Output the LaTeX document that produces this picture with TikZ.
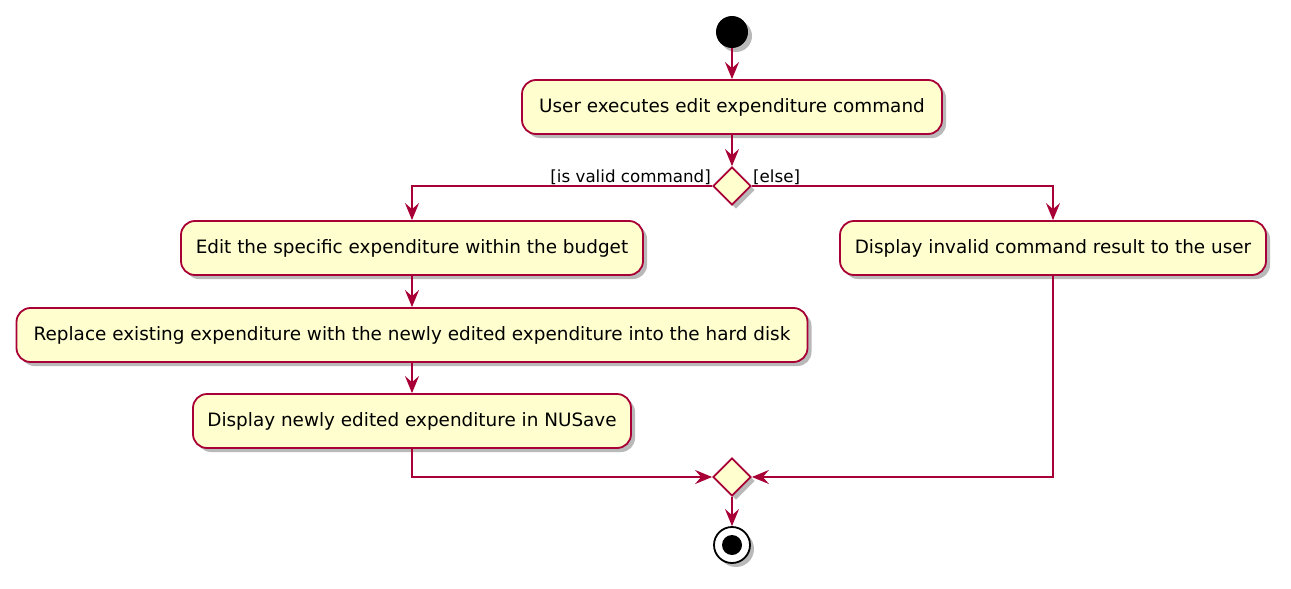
\documentclass[tikz,border=0pt]{standalone}
\usepackage{fontspec}
\setmainfont{DejaVu Sans}
\usetikzlibrary{arrows.meta,positioning,shadows,shapes.geometric}

\definecolor{umlred}{HTML}{A80036}
\definecolor{umlfill}{HTML}{FEFECE}

\tikzset{
    umlshadow/.style={drop shadow={shadow xshift=4pt, shadow yshift=-4pt, fill=black!55, opacity=0.5}},
    activity/.style={rectangle, rounded corners=14pt, draw=umlred, fill=umlfill, line width=1.8pt,
        minimum height=54pt, font=\fontsize{18.4}{21}\selectfont, umlshadow},
    branch/.style={diamond, draw=umlred, fill=umlfill, line width=1.8pt, inner sep=0pt,
        minimum width=38pt, minimum height=38pt, umlshadow},
    guard/.style={font=\fontsize{16.7}{19}\selectfont, inner sep=1pt},
    flow/.style={draw=umlred, line width=1.8pt, -{Stealth[length=17pt, width=14pt, inset=6pt]}},
}

\begin{document}
\begin{tikzpicture}[x=1pt, y=1pt]
    \useasboundingbox (0, 0) rectangle (1291, -589);

    % start / end
    \node[circle, fill=black, minimum size=32pt, inner sep=0pt, umlshadow] (start) at (732, -32) {};
    \node[circle, draw=black, fill=white, line width=1.8pt, minimum size=36pt, inner sep=0pt, umlshadow] (stop) at (732, -545) {};
    \node[circle, fill=black, minimum size=20pt, inner sep=0pt] (stop_dot) at (stop) {};

    % activities
    \node[activity, minimum width=420pt] (execute) at (732, -107) {User executes edit expenditure command};
    \node[activity, minimum width=462pt] (edit) at (412, -248) {Edit the specific expenditure within the budget};
    \node[activity, minimum width=426pt] (invalid) at (1053, -248) {Display invalid command result to the user};
    \node[activity, minimum width=791pt] (replace) at (412, -335) {Replace existing expenditure with the newly edited expenditure into the hard disk};
    \node[activity, minimum width=438pt] (show) at (412, -421) {Display newly edited expenditure in NUSave};

    % decision and merge
    \node[branch] (valid) at (732, -186) {};
    \node[branch] (merge) at (732, -477) {};

    \node[guard, anchor=base east] (valid_label) at (712, -182) {[is valid command]};
    \node[guard, anchor=base west] (else_label) at (752, -182) {[else]};

    % flows
    \draw[flow] (start) -- (execute);
    \draw[flow] (execute) -- (valid.north);
    \draw[flow] (valid.west) -| (edit.north);
    \draw[flow] (valid.east) -| (invalid.north);
    \draw[flow] (edit) -- (replace);
    \draw[flow] (replace) -- (show);
    \draw[flow] (show.south) |- (merge.west);
    \draw[flow] (invalid.south) |- (merge.east);
    \draw[flow] (merge.south) -- (stop);
\end{tikzpicture}
\end{document}
